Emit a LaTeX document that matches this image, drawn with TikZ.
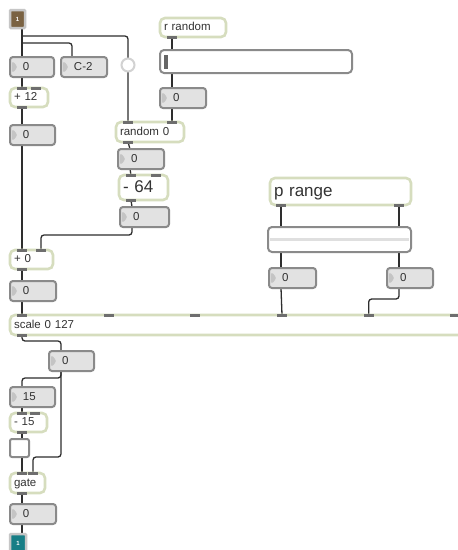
\documentclass[tikz,border=0pt]{standalone}
\usepackage{fontspec}
\setmainfont{Liberation Sans}
\usetikzlibrary{positioning, calc, backgrounds}

\definecolor{numfill}{HTML}{E2E2E2}
\definecolor{numedge}{HTML}{8A8A8A}
\definecolor{numtri}{HTML}{C4C4C4}
\definecolor{objedge}{HTML}{D6DDBE}
\definecolor{portgray}{HTML}{6E6E6E}
\definecolor{wirecol}{HTML}{2E2E2E}
\definecolor{inbrown}{HTML}{7A6242}
\definecolor{outteal}{HTML}{177E86}

\tikzset{
  numbox/.style={draw=numedge, fill=numfill, line width=2pt, rounded corners=3pt, anchor=north west,
    minimum height=20pt, inner xsep=13pt, inner ysep=0pt, outer sep=0pt, align=left,
    text height=8.5pt, text depth=2.5pt, text=black!80, font=\fontsize{11.5}{13}\selectfont,
    path picture={\fill[numtri] ([xshift=2pt,yshift=6.5pt]path picture bounding box.west)
      -- ([xshift=8pt]path picture bounding box.west)
      -- ([xshift=2pt,yshift=-6.5pt]path picture bounding box.west) -- cycle;}},
  objbox/.style={draw=objedge, fill=white, line width=2.6pt, rounded corners=5pt, anchor=north west,
    minimum height=19pt, inner xsep=4pt, inner ysep=0pt, outer sep=0pt, align=left,
    text height=8.5pt, text depth=2.5pt, text=black!80, font=\fontsize{11.5}{13}\selectfont},
  bigobj/.style={objbox, text height=12.5pt, text depth=3.5pt, font=\fontsize{17}{19}\selectfont},
  ctrl/.style={draw=numedge, fill=white, line width=2pt, rounded corners=4pt, anchor=north west,
    inner sep=0pt, outer sep=0pt},
  iobox/.style={line width=2.5pt, rounded corners=1pt, anchor=north west, inner sep=0pt, outer sep=0pt,
    minimum width=15pt, minimum height=18pt, text=white, font=\fontsize{6}{6}\selectfont\bfseries},
  wire/.style={draw=wirecol, line width=1.3pt, rounded corners=3pt},
  port/.style={fill=portgray},
}

\begin{document}
\begin{tikzpicture}[x=1pt, y=-1pt]
  \useasboundingbox (0,0) rectangle (458,550);
  \clip (0,0) rectangle (458,550);

  % Inlet and left column
  \node[iobox, draw=gray!45, fill=inbrown] (inl) at (10,10) {1};
  \node[numbox, text width=18pt] (num1) at (10,57) {0};
  \node[numbox, text width=20pt] (numC2) at (61,57) {C-2};
  \node[circle, draw=gray!35, fill=white, line width=2pt, minimum size=13pt, inner sep=0pt] (bang) at (128,65) {};
  \node[objbox, text width=30pt] (plus12) at (10,88) {+ 12};
  \node[numbox, text width=19pt] (num2) at (10,125) {0};

  % Random part
  \node[objbox, text width=58pt] (rrandom) at (160,18) {r random};
  \node[ctrl, minimum width=192pt, minimum height=23pt] (slider) at (160,50) {};
  \fill[gray!80!black] ([xshift=4pt,yshift=7pt]slider.west) rectangle ([xshift=8pt,yshift=-7pt]slider.west);
  \node[numbox, text width=20pt] (num3) at (160,88) {0};
  \node[objbox, minimum height=20pt, text width=60pt] (random) at (116,122) {random 0};
  \node[numbox, text width=20pt] (num4) at (118,149) {0};
  \node[bigobj, minimum height=25pt, text width=41pt] (minus64) at (119,175) {- 64};
  \node[numbox, text width=23pt] (num5) at (120,207) {0};

  \node[objbox, text width=35pt] (plus0) at (10,250) {+ 0};
  \node[numbox, text width=20pt] (num6) at (10,281) {0};

  % Range part
  \node[bigobj, minimum height=27pt, text width=133pt] (prange) at (270,178) {p range};
  \node[ctrl, minimum width=143pt, minimum height=25pt] (rslider) at (268,227) {};
  \fill[gray!25] ([xshift=2pt,yshift=1.5pt]rslider.west) rectangle ([xshift=-2pt,yshift=-1.5pt]rslider.east);
  \node[numbox, text width=21pt] (num7) at (269,268) {0};
  \node[numbox, text width=20pt] (num8) at (387,268) {0};

  \node[objbox, minimum height=20pt, text width=449pt] (scale) at (10,315) {scale 0 127};

  % Output part
  \node[numbox, text width=19pt] (num9) at (49,351) {0};
  \node[numbox, text width=19pt] (num10) at (10,387) {15};
  \node[objbox, text width=29pt] (minus15) at (10,413) {- 15};
  \node[ctrl, rounded corners=2pt, minimum width=19pt, minimum height=18pt] (toggle) at (10,439) {};
  \node[objbox, minimum height=20pt, text width=27pt] (gate) at (10,473) {gate};
  \node[numbox, text width=20pt] (num11) at (10,504) {0};
  \node[iobox, draw=gray!45, fill=outteal, minimum width=16pt] (outl) at (10,534) {1};

  % Ports
  \foreach \n in {plus12, random, minus64, plus0, minus15, gate} {
    \fill[port] ([xshift=7pt,yshift=1.5pt]\n.north west) rectangle ([xshift=17pt,yshift=-1.5pt]\n.north west);
    \fill[port] ([xshift=-17pt,yshift=1.5pt]\n.north east) rectangle ([xshift=-7pt,yshift=-1.5pt]\n.north east);
    \fill[port] ([xshift=7pt,yshift=1.5pt]\n.south west) rectangle ([xshift=17pt,yshift=-1.5pt]\n.south west);
  }
  \foreach \i in {0,...,5} {
    \coordinate (sin\i) at ([xshift={12+\i*86.67}]scale.north west);
    \fill[port] ([xshift=-5pt,yshift=1.5pt]sin\i) rectangle ([xshift=5pt,yshift=-1.5pt]sin\i);
  }
  \fill[port] ([xshift=7pt,yshift=1.5pt]scale.south west) rectangle ([xshift=17pt,yshift=-1.5pt]scale.south west);
  \fill[port] ([xshift=7pt,yshift=1.5pt]rrandom.south west) rectangle ([xshift=17pt,yshift=-1.5pt]rrandom.south west);
  \coordinate (pout1) at ([xshift=11pt]prange.south west);
  \coordinate (pout2) at ([xshift=-12pt]prange.south east);
  \fill[port] ([xshift=-5pt,yshift=1.5pt]pout1) rectangle ([xshift=5pt,yshift=-1.5pt]pout1);
  \fill[port] ([xshift=-5pt,yshift=1.5pt]pout2) rectangle ([xshift=5pt,yshift=-1.5pt]pout2);

  % Wires
  \begin{scope}[on background layer]
    \fill[white] (0,0) rectangle (458,550);
    \draw[wire] ([xshift=12pt]inl.south west) -- ([xshift=12pt]num1.north west);
    \draw[wire] ([xshift=12pt,yshift=-15pt]inl.south west) -| ([xshift=11pt]numC2.north west);
    \draw[wire] ([xshift=12pt,yshift=-8pt]inl.south west) -| ([xshift=12pt]random.north west);
    \draw[wire] ([xshift=12pt]num1.south west) -- ([xshift=12pt]plus12.north west);
    \draw[wire] ([xshift=12pt]plus12.south west) -- ([xshift=12pt]num2.north west);
    \draw[wire] ([xshift=12pt]num2.south west) -- ([xshift=12pt]plus0.north west);
    \draw[wire] ([xshift=12pt]rrandom.south west) -- ([xshift=12pt]slider.north west);
    \draw[wire] ([xshift=12pt]slider.south west) -- ([xshift=12pt]num3.north west);
    \draw[wire] ([xshift=12pt]num3.south west) -- ([xshift=-12pt]random.north east);
    \draw[wire] ([xshift=12pt]random.south west) -- ([xshift=12pt]num4.north west);
    \draw[wire] ([xshift=12pt]num4.south west) -- ([xshift=12pt]minus64.north west);
    \draw[wire] ([xshift=12pt]minus64.south west) -- ([xshift=12pt]num5.north west);
    \draw[wire] ([xshift=12pt]num5.south west) -- ++(0,8) -| ([xshift=-12pt]plus0.north east);
    \draw[wire] ([xshift=12pt]plus0.south west) -- ([xshift=12pt]num6.north west);
    \draw[wire] ([xshift=12pt]num6.south west) -- (sin0);
    \draw[wire] (pout1) -- (pout1 |- rslider.north);
    \draw[wire] (pout2) -- (pout2 |- rslider.north);
    \draw[wire] (pout1 |- rslider.south) -- ([xshift=12pt]num7.north west);
    \draw[wire] (pout2 |- rslider.south) -- ([xshift=12pt]num8.north west);
    \draw[wire] ([xshift=12pt]num7.south west) -- (sin3);
    \draw[wire] ([xshift=12pt]num8.south west) -- ++(0,11) -| (sin4);
    \draw[wire] ([xshift=12pt]scale.south west) -- ++(0,6) -| ([xshift=12pt]num9.north west);
    \draw[wire] ([xshift=12pt]num9.south west) -- ++(0,7) -| ([xshift=12pt]num10.north west);
    \draw[wire] ([xshift=12pt]num9.south west) |- ([xshift=-12pt,yshift=16pt]gate.north east) -- ([xshift=-12pt]gate.north east);
    \draw[wire] ([xshift=12pt]num10.south west) -- ([xshift=12pt]minus15.north west);
    \draw[wire] ([xshift=12pt]minus15.south west) -- ([xshift=12pt]toggle.north west);
    \draw[wire] ([xshift=12pt]toggle.south west) -- ([xshift=12pt]gate.north west);
    \draw[wire] ([xshift=12pt]gate.south west) -- ([xshift=12pt]num11.north west);
    \draw[wire] ([xshift=12pt]num11.south west) -- ([xshift=12pt]outl.north west);
  \end{scope}
\end{tikzpicture}
\end{document}
